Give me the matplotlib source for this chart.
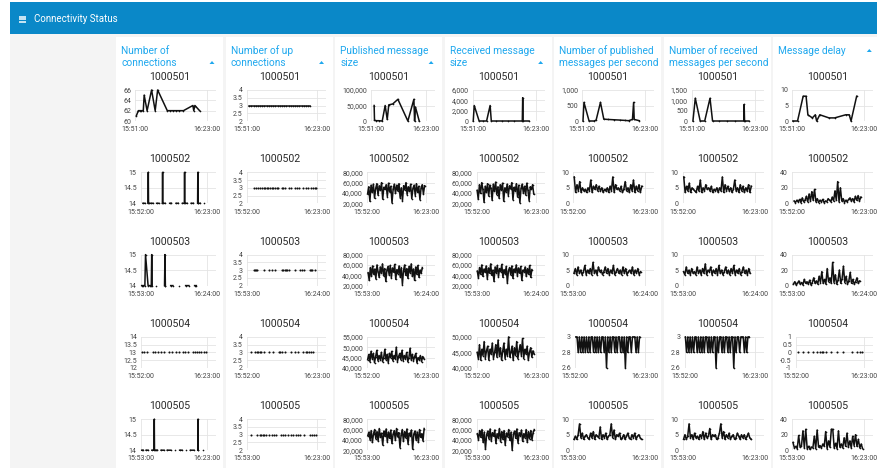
import numpy as np
import matplotlib
matplotlib.use('Agg')
import matplotlib.pyplot as plt
from matplotlib.patches import Rectangle

plt.rcParams['font.family'] = ['Roboto', 'DejaVu Sans']

W, H = 877, 468

columns = ["Number of\nconnections", "Number of up\nconnections", "Published message\nsize",
           "Received message\nsize", "Number of published\nmessages per second",
           "Number of received\nmessages per second", "Message delay"]
sort_arrow = [True, True, True, True, False, False, True]
devices = ['1000501', '1000502', '1000503', '1000504', '1000505']
x_labels = [('15:51:00', '16:23:00'), ('15:52:00', '16:23:00'), ('15:53:00', '16:24:00'),
            ('15:52:00', '16:23:00'), ('15:53:00', '16:23:00')]
x_span = [32, 31, 31, 31, 30]   # minutes between the two time ticks

y_ticks = [
    [[60, 62, 64, 66], [2, 2.5, 3, 3.5, 4], [0, 50000, 100000], [0, 2000, 4000, 6000],
     [0, 500, 1000], [0, 500, 1000, 1500], [0, 5, 10]],
    [[14, 14.5, 15], [2, 2.5, 3, 3.5, 4], [20000, 40000, 60000, 80000], [20000, 40000, 60000, 80000],
     [0, 5, 10], [0, 5, 10], [0, 20, 40]],
    [[14, 14.5, 15], [2, 2.5, 3, 3.5, 4], [20000, 40000, 60000, 80000], [20000, 40000, 60000, 80000],
     [0, 5, 10], [0, 5, 10], [0, 20, 40]],
    [[12, 12.5, 13, 13.5, 14], [2, 2.5, 3, 3.5, 4], [40000, 45000, 50000, 55000], [40000, 45000, 50000],
     [2.6, 2.8, 3], [2.6, 2.8, 3], [-1, -0.5, 0, 0.5, 1]],
    [[14, 14.5, 15], [2, 2.5, 3, 3.5, 4], [20000, 40000, 60000, 80000], [20000, 40000, 60000, 80000],
     [0, 5, 10], [0, 5, 10], [0, 20, 40]],
]

# ---- 1000501 (minutes after first tick, value)
conn_501_t = [0.5, 1.4, 2.0, 2.8, 3.6, 4.0, 5.3, 7.3, 8.9, 10.0, 14.3, 15.5, 16.8, 18.0, 19.5, 21.5, 25.7, 26.1, 26.6, 28.7]
conn_501 = [61, 62, 62, 62, 62, 65, 62, 66, 62, 66, 62, 62, 62, 62, 62, 62, 63, 62, 63, 62]
up_501_t = [1.2, 2.2, 3.2, 4.2, 5.2, 6.2, 7.2, 8.2, 9.2, 10.2, 11.2, 12.2, 13.2, 14.2, 15.2, 16.2,
            17.2, 18.2, 19.2, 20.2, 21.2, 22.2, 23.2, 24.2, 25.2, 26.2, 27.2, 28.2, 28.9]
up_501 = [3, 3, 3, 3, 3, 3, 3, 3, 3, 3, 3, 3, 3, 3, 3, 3, 3, 3, 3, 3, 3, 3, 3, 3, 3, 3, 3, 3, 3]
pub_501_t = [1.8, 2.0, 3.0, 4.5, 6.5, 8.2, 9.4, 10.3, 12.6, 15.6, 21.4, 24.9, 25.3, 25.8, 28.0]
pub_501 = [50000, 3000, 1000, 1000, 0, 50000, 5000, 52000, 55000, 70000, 0, 70000, 0, 45000, 0]
recv_501_t = [0.2, 0.7, 3.2, 5.0, 7.0, 8.8, 9.4, 12.0, 15.0, 18.0, 21.0, 25.2, 25.4, 25.6, 28.6]
recv_501 = [0, 3000, 0, 0, 0, 3000, 0, 0, 0, 0, 0, 0, 4500, 0, 0]
npub_501_t = [0.3, 0.8, 3.4, 6.0, 7.0, 9.2, 10.9, 13.0, 16.0, 19.0, 21.5, 23.5, 25.5, 26.1, 26.4, 29.0]
npub_501 = [0, 600, 0, 0, 30, 600, 60, 50, 40, 30, 20, 10, 50, 600, 50, 10]
nrecv_501_t = [0.5, 1.7, 4.2, 6.5, 9.2, 10.5, 14.0, 18.0, 22.0, 26.4, 26.6, 26.8, 29.0]
nrecv_501 = [0, 1100, 0, 0, 1100, 0, 0, 0, 0, 0, 800, 0, 0]
delay_501_t = [0.2, 2.3, 4.8, 6.1, 6.9, 8.9, 10.2, 10.8, 12.2, 16.3, 18.8, 23.7, 25.3, 26.1, 28.6]
delay_501 = [0, 0, 8, 8, 2, 1, 2, 0, 2, 1, 1, 2, 2, 0, 8]

# ---- 1000502
conn_502_t = [1.0, 1.8, 2.6, 3.4, 3.5, 3.6, 4.6, 5.6, 6.6, 7.4, 8.3, 9.2, 10.1, 10.2, 10.3, 11.3, 12.3, 13.5, 14.3,
              15.5, 16.5, 17.5, 18.5, 19.5, 20.4, 20.5, 20.6, 21.6, 22.6, 23.6, 24.6, 25.6, 26.6, 26.7, 26.8,
              27.8, 28.8, 29.6]
conn_502 = [14, 14, None, 14, 15, 14, 14, 14, None, 14, 14, None, 14, 15, 14, 14, None, 14, 14, None, 14, 14,
            None, 14, 14, 15, 14, 14, None, 14, 14, None, 14, 15, 14, 14, None, 14]
up_502_t = [3.5, 4.2, 5.2, 5.9, 6.8, 7.6, 8.2, 9.0, 9.6, 10.4, 11.2, 11.8, 12.5, 13.3, 14.0, 15.5, 16.3, 17.2,
            18.8, 19.6, 21.5, 22.3, 23.2, 24.9, 26.5, 27.3, 28.6, 29.4, 30.1, 30.6]
up_502 = [3, 3, 3, 3, 3, 3, 3, 3, 3, 3, 3, 3, 3, 3, 3, 3, 3, 3, 3, 3, 3, 3, 3, 3, 3, 3, 3, 3, 3, 3]
pub_502 = [38000, 52000, 24000, 55000, 41000, 57000, 30000, 49000, 58000, 36000, 54000, 45000, 60000, 28000,
           51000, 47000, 56000, 33000, 59000, 42000, 53000, 21000, 48000, 57000, 39000, 55000, 44000, 58000,
           31000, 50000, 25000, 54000, 46000, 60000, 37000, 52000, 43000, 57000, 29000, 49000, 55000, 35000,
           58000, 41000, 53000, 27000, 50000, 56000, 38000, 54000]
recv_502 = [45000, 28000, 56000, 39000, 60000, 47000, 22000, 53000, 41000, 58000, 34000, 55000, 49000, 26000,
            57000, 43000, 61000, 37000, 52000, 30000, 56000, 46000, 59000, 24000, 50000, 42000, 57000, 35000,
            54000, 48000, 60000, 27000, 51000, 44000, 58000, 32000, 55000, 21000, 49000, 57000, 40000, 53000,
            36000, 59000, 45000, 25000, 52000, 47000, 56000, 38000]
npub_502 = [8.5, 3.5, 6, 4, 7, 3.5, 5, 4, 4.5, 3.5, 5, 4, 7.5, 3.5, 5.5, 4.5, 6, 4, 5.5, 4, 5, 3.5, 4.5, 4, 5,
            3.5, 5.5, 4, 8.5, 3.5, 6, 4.5, 5, 4, 5.5, 3.5, 4.5, 7, 4, 5, 3.5, 6, 4, 7.5, 3.5, 5.5, 4, 6, 3.5, 5.5]
nrecv_502 = [8.5, 3.5, 5.5, 4, 6.5, 3.5, 5, 4.5, 4, 3.5, 5.5, 4, 7.5, 3.5, 5, 4, 6, 4.5, 5, 4, 5.5, 3.5, 4.5,
             4, 5, 3.5, 5, 4, 8.5, 3.5, 6, 4, 5.5, 4, 5, 3.5, 4.5, 7.5, 4, 5, 3.5, 6, 4, 5.5, 3.5, 5, 4, 6, 3.5, 5.5]
delay_502 = [3, 1, 4, 2, 5, 1, 7, 2, 4, 9, 2, 12, 3, 15, 4, 18, 2, 6, 1, 4, 2, 5, 1, 3, 2, 6, 4, 2, 8, 3, 16,
             4, 28, 2, 20, 3, 6, 1, 4, 2, 5, 7, 3, 6, 2, 9, 4, 10, 3, 8]

# ---- 1000503
conn_503_t = [0.4, 1.0, 1.9, 2.2, 3.4, 4.3, 4.9, 5.1, 5.3, 6.5, 7.2, 8.0, 11.1, 11.3, 11.5, 12.3, 14.0, 15.0,
              16.5, 18.0, 19.5, 21.0, 22.5, 24.5, 25.2, 26.0]
conn_503 = [14, 14, 14, 15, 14, 14, 14, 15, 14, None, 14, None, 14, 15, 14, None, 14, 14, None, 14, None, 14,
            14, None, 14, 14]
up_503_t = [3.3, 3.8, 4.3, 4.6, 7.9, 9.8, 11.1, 12.4, 15.7, 16.3, 17.0, 17.6, 18.0, 19.0, 21.6, 23.6, 24.5,
            25.5, 28.1, 28.6, 29.2, 30.1]
up_503 = [3, 3, 3, 3, 3, 3, 3, 3, 3, 3, 3, 3, 3, 3, 3, 3, 3, 3, 3, 3, 3, 3]
pub_503 = [45000, 30000, 55000, 38000, 58000, 42000, 52000, 33000, 60000, 47000, 36000, 56000, 44000, 62000,
           39000, 53000, 28000, 50000, 57000, 41000, 59000, 35000, 54000, 46000, 61000, 32000, 51000, 43000,
           58000, 37000, 55000, 22000, 49000, 60000, 40000, 53000, 34000, 57000, 45000, 62000, 38000, 52000,
           30000, 56000, 42000, 59000, 36000, 50000, 44000, 55000]
recv_503 = [48000, 35000, 55000, 42000, 60000, 38000, 52000, 46000, 58000, 33000, 54000, 44000, 62000, 40000,
            50000, 28000, 56000, 45000, 59000, 37000, 53000, 47000, 61000, 36000, 51000, 43000, 57000, 25000,
            49000, 55000, 41000, 58000, 34000, 52000, 46000, 60000, 39000, 54000, 44000, 57000, 30000, 50000,
            47000, 56000, 38000, 53000, 42000, 59000, 36000, 51000]
npub_503 = [4, 5.5, 3.5, 6, 4, 5, 3.5, 4.5, 6.5, 3.5, 5, 4, 5.5, 3.5, 7.5, 4, 5, 3.5, 6, 4.5, 5, 3.5, 4.5, 6, 4,
            5.5, 3.5, 5, 4, 6.5, 3.5, 4.5, 5.5, 4, 5, 3.5, 6, 4, 5.5, 3.5, 4.5, 5, 4, 6, 3.5, 5, 4, 5.5, 3.5, 4.5]
nrecv_503 = [4.5, 3.5, 6, 4, 5, 3.5, 5.5, 4, 4.5, 3.5, 6, 4, 5, 3.5, 5.5, 4, 7, 3.5, 5, 4.5, 6, 3.5, 5, 4, 5.5,
             3.5, 6.5, 4, 5, 3.5, 4.5, 6, 4, 5, 3.5, 5.5, 4, 6.5, 3.5, 5, 4, 5.5, 3.5, 4.5, 6, 4, 5, 3.5, 5.5, 4]
delay_503 = [2, 5, 1, 3, 6, 2, 4, 1, 8, 3, 5, 2, 7, 1, 4, 10, 3, 6, 2, 12, 4, 18, 3, 8, 2, 22, 5, 10, 3, 30, 4,
             14, 2, 7, 20, 3, 9, 25, 4, 12, 2, 6, 17, 3, 8, 2, 5, 10, 3, 6]

# ---- 1000504
conn_504_t = [0.4, 1.4, 2.9, 5.8, 6.8, 7.9, 9.4, 10.8, 13.0, 14.8, 16.6, 18.0, 19.7, 20.9, 22.0, 24.5, 25.5,
              26.4, 27.4, 28.4, 29.5, 30.3]
conn_504 = [13, 13, 13, 13, 13, 13, 13, 13, 13, 13, 13, 13, 13, 13, 13, 13, 13, 13, 13, 13, 13, 13]
up_504_t = [2.0, 3.9, 4.5, 5.2, 5.8, 6.5, 7.9, 9.8, 11.8, 14.4, 15.0, 15.7, 17.0, 19.6, 21.6, 22.9, 24.9, 26.2,
            26.9, 27.5, 28.5, 29.5]
up_504 = [3, 3, 3, 3, 3, 3, 3, 3, 3, 3, 3, 3, 3, 3, 3, 3, 3, 3, 3, 3, 3, 3]
pub_504 = [44000, 46500, 43000, 48000, 44500, 47000, 42500, 45500, 48500, 43500, 46000, 44000, 47500, 43000,
           45000, 49000, 44000, 46500, 42500, 47000, 45000, 48000, 43500, 46000, 44500, 50000, 43000, 45500,
           47000, 44000, 48500, 43500, 46000, 44500, 47500, 43000, 45000, 49500, 44000, 46500, 43500, 45500,
           47000, 42500, 45000, 44000, 46000, 43000, 45500, 44500]
recv_504 = [45000, 43000, 47500, 42500, 46000, 44000, 48500, 43000, 45500, 47000, 42500, 46000, 44500, 48000,
            43000, 45000, 47500, 43500, 49000, 44000, 46500, 42500, 45500, 48000, 43000, 46000, 44000, 50000,
            43500, 45000, 47000, 42500, 46500, 44000, 48500, 43000, 45500, 47500, 44000, 49500, 43000, 46000,
            44500, 47000, 42500, 45000, 46500, 43500, 45500, 44500]
npub_504 = [3, 3, 2.8, 3, 2.8, 3, 2.8, 3, 2.8, 3, 2.8, 3, 2.8, 3, 3, 2.8, 3, 2.8, 3, 2.8, 3, 2.8, 3, 3, 2.8, 3,
            2.6, 3, 2.8, 3, 2.8, 3, 3, 2.8, 3, 2.8, 3, 3, 2.8, 3, 2.8, 3, 2.6, 3, 2.8, 3, 3, 2.8, 3, 3, 3, 2.8,
            3, 2.8, 3]
nrecv_504 = [3, 2.8, 3, 2.8, 3, 2.8, 3, 2.8, 3, 3, 2.8, 3, 2.8, 3, 2.8, 3, 2.8, 3, 3, 2.8, 3, 2.8, 3, 2.8, 3,
             3, 2.6, 3, 2.8, 3, 3, 2.8, 3, 2.8, 3, 3, 2.8, 3, 2.8, 3, 3, 2.6, 3, 2.8, 3, 3, 2.8, 3, 3, 3, 2.8,
             3, 2.8, 3, 3]
delay_504_t = [0.7, 3.4, 5.5, 7.6, 9.6, 10.7, 11.7, 12.4, 13.8, 15.8, 18.6, 21.3, 25.5, 27.5, 28.9, 30.0]
delay_504 = [0, 0, 0, 0, 0, 0, 0, 0, 0, 0, 0, 0, 0, 0, 0, 0]

# ---- 1000505
conn_505_t = [0.4, 1.0, 1.6, 2.4, 3.2, 4.4, 5.0, 6.0, 6.1, 6.2, 6.8, 7.5, 8.4, 9.2, 10.4, 11.2, 12.0, 13.5,
              14.3, 15.6, 16.5, 17.6, 18.6, 19.5, 20.6, 21.6, 22.5, 24.0, 25.0, 25.8, 25.9, 26.0, 27.6, 28.4]
conn_505 = [14, 14, None, 14, 14, None, 14, 14, 15, 14, 14, 14, None, 14, 14, None, 14, 14, None, 14, None,
            14, 14, None, 14, None, 14, 14, None, 14, 15, 14, None, 14]
up_505_t = [1.9, 4.4, 5.7, 6.3, 7.0, 7.6, 8.2, 9.5, 10.8, 11.6, 12.7, 14.6, 15.6, 16.6, 17.7, 19.0, 20.0,
            21.0, 21.9, 22.8, 24.7, 27.2, 28.2, 29.1, 29.7]
up_505 = [3, 3, 3, 3, 3, 3, 3, 3, 3, 3, 3, 3, 3, 3, 3, 3, 3, 3, 3, 3, 3, 3, 3, 3, 3]
pub_505 = [48000, 55000, 40000, 58000, 35000, 52000, 60000, 42000, 56000, 38000, 62000, 45000, 53000, 30000,
           57000, 47000, 61000, 36000, 55000, 43000, 59000, 33000, 51000, 58000, 39000, 62000, 46000, 54000,
           25000, 50000, 60000, 37000, 56000, 44000, 61000, 32000, 53000, 48000, 59000, 22000, 51000, 57000,
           40000, 55000, 35000, 60000, 45000, 52000, 38000, 62000]
recv_505 = [52000, 40000, 58000, 45000, 60000, 35000, 55000, 22000, 50000, 57000, 42000, 61000, 38000, 54000,
            47000, 59000, 33000, 52000, 44000, 62000, 36000, 56000, 41000, 58000, 30000, 53000, 46000, 60000,
            39000, 55000, 20000, 51000, 57000, 43000, 61000, 34000, 54000, 48000, 59000, 37000, 52000, 44000,
            60000, 35000, 56000, 42000, 58000, 40000, 54000, 60000]
npub_505 = [3.5, 4.5, 3.5, 5, 8.5, 4, 5.5, 3.5, 4.5, 5, 4, 3.5, 5.5, 4, 6, 3.5, 5, 4.5, 4, 7.5, 3.5, 5, 4, 5.5,
            3.5, 4.5, 5, 8.5, 4, 6.5, 3.5, 5, 4.5, 5.5, 3.5, 4, 5, 3.5, 4.5, 5.5, 4, 3.5, 5, 4, 5.5, 3.5, 4.5, 5, 4, 3.5]
nrecv_505 = [3.5, 5, 3.5, 4.5, 8.5, 4, 5, 3.5, 5.5, 4, 4.5, 3.5, 5, 4, 6, 3.5, 5.5, 4, 4.5, 7, 3.5, 5, 4.5, 5,
             3.5, 4, 5.5, 8.5, 4, 6, 3.5, 5, 4, 5.5, 3.5, 4.5, 5, 3.5, 4, 5.5, 4.5, 3.5, 5, 4, 5, 3.5, 4.5, 5.5, 4, 3.5]
delay_505 = [10, 3, 5, 2, 19, 4, 6, 25, 3, 27, 2, 5, 1, 4, 3, 18, 2, 26, 4, 6, 3, 8, 5, 24, 2, 12, 4, 27, 27,
             3, 9, 2, 25, 4, 8, 3, 16, 5, 22, 4, 12, 3, 18, 6, 20, 5, 14, 3, 8, 2]


def dense(vals, t0, t1):
    # evenly sampled readings between first and last timestamp
    return list(np.linspace(t0, t1, len(vals))), vals


# kind: 'line' = line + small dots, 'dots' = isolated samples
series = {
    (0, 0): (conn_501_t, conn_501, 'line'), (0, 1): (up_501_t, up_501, 'line'),
    (0, 2): (pub_501_t, pub_501, 'line'), (0, 3): (recv_501_t, recv_501, 'line'),
    (0, 4): (npub_501_t, npub_501, 'line'), (0, 5): (nrecv_501_t, nrecv_501, 'line'),
    (0, 6): (delay_501_t, delay_501, 'line'),
    (1, 0): (conn_502_t, conn_502, 'line'), (1, 1): (up_502_t, up_502, 'dots'),
    (1, 2): (*dense(pub_502, 0.2, 30.2), 'line'), (1, 3): (*dense(recv_502, 0.2, 30.0), 'line'),
    (1, 4): (*dense(npub_502, 0.4, 29.5), 'line'), (1, 5): (*dense(nrecv_502, 0.4, 29.5), 'line'),
    (1, 6): (*dense(delay_502, 0.8, 29.5), 'line'),
    (2, 0): (conn_503_t, conn_503, 'line'), (2, 1): (up_503_t, up_503, 'dots'),
    (2, 2): (*dense(pub_503, 0.5, 29.0), 'line'), (2, 3): (*dense(recv_503, 0.3, 29.0), 'line'),
    (2, 4): (*dense(npub_503, 0.3, 29.0), 'line'), (2, 5): (*dense(nrecv_503, 0.3, 29.0), 'line'),
    (2, 6): (*dense(delay_503, 0.5, 29.0), 'line'),
    (3, 0): (conn_504_t, conn_504, 'dots'), (3, 1): (up_504_t, up_504, 'dots'),
    (3, 2): (*dense(pub_504, 0.3, 29.8), 'line'), (3, 3): (*dense(recv_504, 0.3, 30.2), 'line'),
    (3, 4): (*dense(npub_504, 0.3, 28.5), 'line'), (3, 5): (*dense(nrecv_504, 0.3, 28.5), 'line'),
    (3, 6): (delay_504_t, delay_504, 'dots'),
    (4, 0): (conn_505_t, conn_505, 'line'), (4, 1): (up_505_t, up_505, 'dots'),
    (4, 2): (*dense(pub_505, 0.3, 29.0), 'line'), (4, 3): (*dense(recv_505, 0.3, 29.3), 'line'),
    (4, 4): (*dense(npub_505, 0.3, 28.5), 'line'), (4, 5): (*dense(nrecv_505, 0.3, 28.5), 'line'),
    (4, 6): (*dense(delay_505, 0.3, 29.3), 'line'),
}


def fmt(v):
    if abs(v) >= 1000:
        return '{:,.0f}'.format(v)
    return '{:g}'.format(v)


def box(x, y, w, h):
    return [x / W, 1 - (y + h) / H, w / W, h / H]


fig = plt.figure(figsize=(W / 100, H / 100), dpi=100)

# page chrome drawn in pixel coordinates
bg = fig.add_axes([0, 0, 1, 1], zorder=-5)
bg.set_xlim(0, W)
bg.set_ylim(H, 0)
bg.axis('off')
bg.add_patch(Rectangle((10, 34), W - 10, H - 34, color='#f4f4f4', lw=0))
bg.add_patch(Rectangle((10, 2), W - 10, 32, color='#0a88c8', lw=0))
for yy in (16.5, 19, 21.5):
    bg.plot([19, 26], [yy, yy], color='white', lw=1.1, solid_capstyle='butt')
bg.text(34, 19, 'Connectivity Status', color='white', fontsize=7, va='center', ha='left')

col_w = 109.55
col_left = [116 + col_w * i for i in range(7)]
row_top = [90 + 82.3 * r for r in range(5)]
blue = '#1fa8ee'

for c in range(7):
    x0 = col_left[c]
    bg.add_patch(Rectangle((x0, 37), 107, H - 37, color='white', lw=0))
    bg.text(x0 + 5, 45.5, columns[c], color=blue, fontsize=7.3, va='top', ha='left', linespacing=1.25)
    if sort_arrow[c]:
        ay = 62.5 if '\n' in columns[c] else 50.5
        bg.add_patch(plt.Polygon([[x0 + 93.5, ay + 1.5], [x0 + 98.5, ay + 1.5], [x0 + 96, ay - 1.5]],
                                 color=blue, lw=0))

axes = {}
for r in range(5):
    for c in range(7):
        x0 = col_left[c]
        bg.text(x0 + 54, row_top[r] - 13, devices[r], color='#2a2a2a', fontsize=7.6,
                ha='center', va='center')
        ax = fig.add_axes(box(x0 + 20, row_top[r], 80, 31))
        t, v, kind = series[(r, c)]
        yv = np.array([np.nan if q is None else q for q in v], dtype=float)
        if kind == 'line':
            ax.plot(t, yv, color='#111111', lw=1.1, marker='o', ms=1.2, mew=0,
                    clip_on=False, zorder=3)
        else:
            ax.plot(t, yv, ls='none', color='#111111', marker='o', ms=1.5, mew=0, clip_on=False, zorder=3)
        ticks = y_ticks[r][c]
        ax.set_ylim(ticks[0], ticks[-1])
        ax.set_yticks(ticks)
        ax.set_yticklabels([fmt(q) for q in ticks])
        ax.set_xticks([0, x_span[r]])
        ax.set_xticklabels(list(x_labels[r]))
        ax.tick_params(length=0, labelsize=5.0, colors='#444444', pad=3.8)
        ax.tick_params(axis='y', pad=3.0)
        ax.grid(True, color='#e4e4e4', lw=0.6)
        ax.set_axisbelow(True)
        for s in ax.spines.values():
            s.set_visible(False)
        ax.patch.set_alpha(0)
        axes[(r, c)] = ax

# place each plot so its y labels start a fixed distance from the column edge
fig.canvas.draw()
renderer = fig.canvas.get_renderer()
for (r, c), ax in axes.items():
    wlab = max(lb.get_window_extent(renderer).width for lb in ax.get_yticklabels())
    left = col_left[c] + 7 + wlab + 4.2
    right = col_left[c] + 100
    tick_x = col_left[c] + 91
    ax.set_position(box(left, row_top[r], right - left, 31))
    ax.set_xlim(0, x_span[r] * (right - left) / (tick_x - left))

fig.savefig('out.png', dpi=100)
